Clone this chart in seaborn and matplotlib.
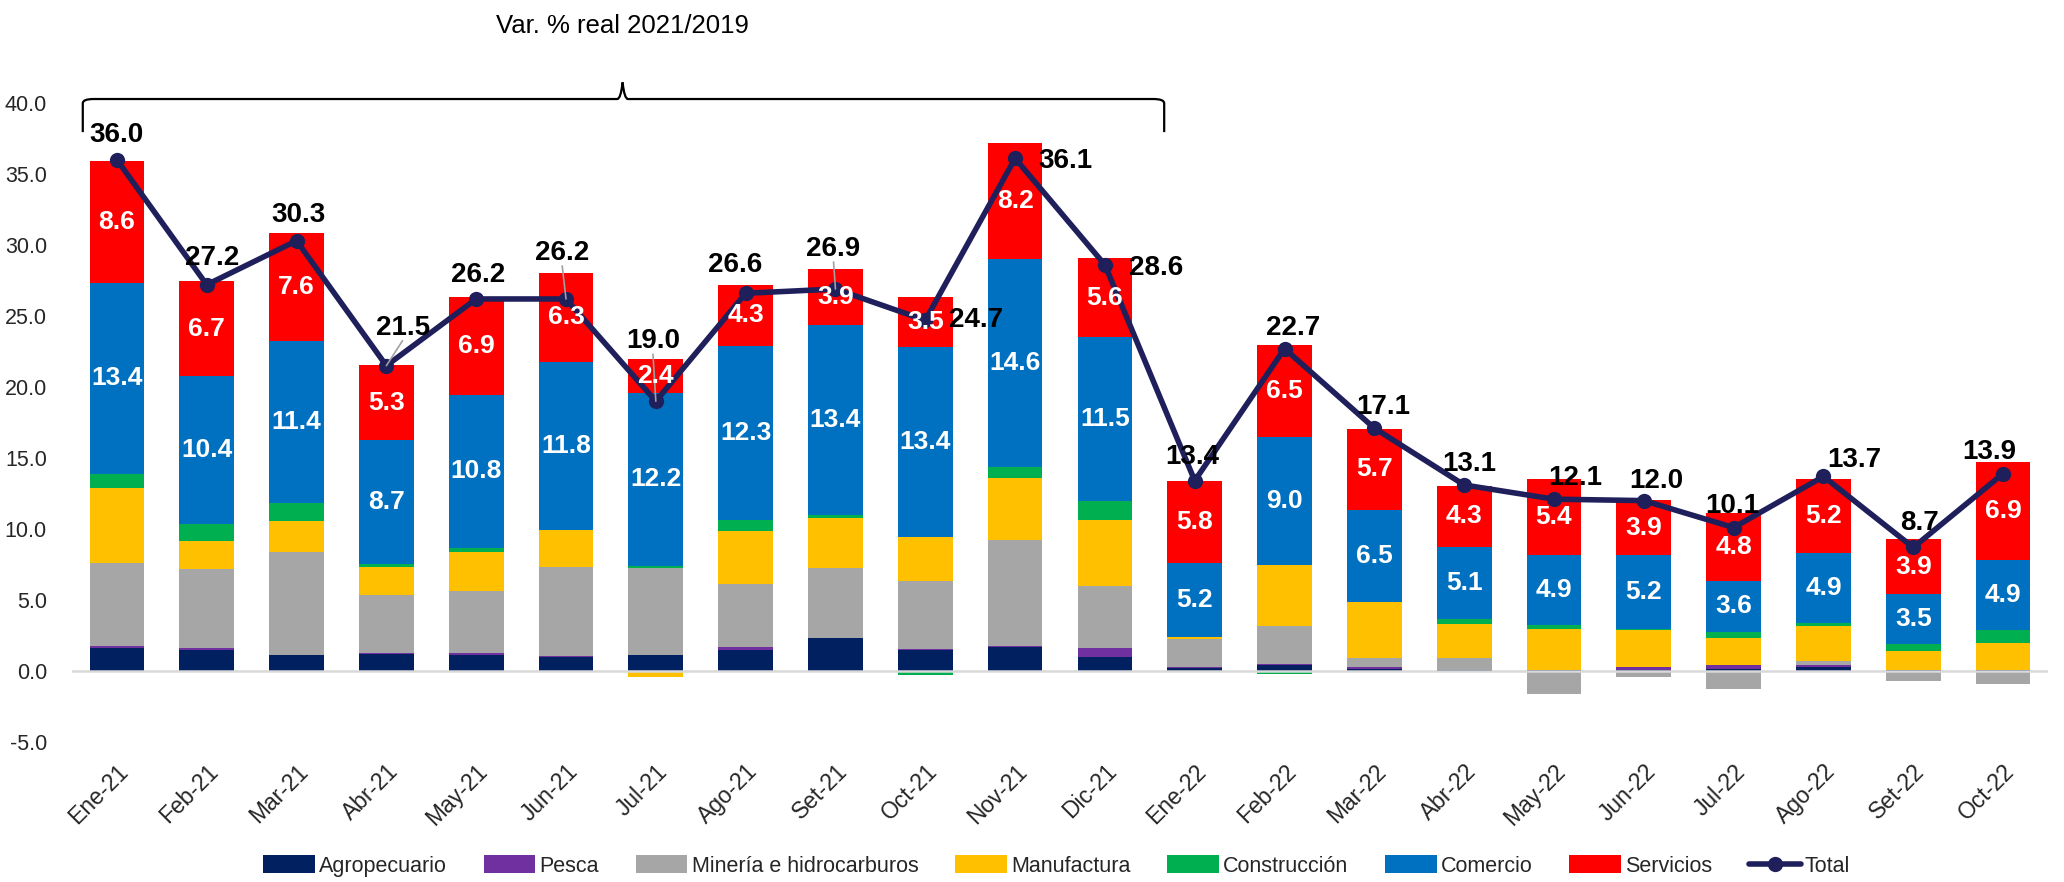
import numpy as np
import matplotlib
matplotlib.use("Agg")
import matplotlib.pyplot as plt
import seaborn as sns
from matplotlib.path import Path
from matplotlib.patches import PathPatch
from matplotlib.lines import Line2D

months = ["Ene-21", "Feb-21", "Mar-21", "Abr-21", "May-21", "Jun-21", "Jul-21",
          "Ago-21", "Set-21", "Oct-21", "Nov-21", "Dic-21", "Ene-22", "Feb-22",
          "Mar-22", "Abr-22", "May-22", "Jun-22", "Jul-22", "Ago-22", "Set-22", "Oct-22"]

agropecuario = [1.6, 1.5, 1.1, 1.2, 1.1, 1.0, 1.1, 1.5, 2.3, 1.5, 1.7, 1.0,
                0.2, 0.45, 0.15, 0.05, 0.05, 0.1, 0.15, 0.25, 0.05, 0.05]
pesca = [0.15, 0.15, -0.05, 0.05, 0.15, 0.05, 0.05, 0.2, 0.05, 0.05, 0.05, 0.6,
         0.05, 0.05, 0.1, -0.1, 0.05, 0.2, 0.25, 0.15, 0.05, 0.05]
mineria = [5.85, 5.5, 7.25, 4.1, 4.4, 6.3, 6.1, 4.4, 4.9, 4.8, 7.45, 4.4,
           2.0, 2.7, 0.7, 0.9, -1.65, -0.4, -1.3, 0.3, -0.7, -0.9]
manufactura = [5.3, 2.0, 2.2, 2.0, 2.7, 2.55, -0.45, 3.75, 3.55, 3.1, 4.4, 4.6,
               0.15, 4.25, 3.9, 2.35, 2.85, 2.6, 1.95, 2.5, 1.3, 1.85]
construccion = [1.0, 1.2, 1.3, 0.2, 0.3, 0.05, 0.15, 0.75, 0.2, -0.3, 0.8, 1.4,
                -0.1, -0.2, -0.1, 0.35, 0.3, 0.05, 0.4, 0.2, 0.5, 0.95]
comercio = [13.4, 10.4, 11.4, 8.7, 10.8, 11.8, 12.2, 12.3, 13.4, 13.4, 14.6, 11.5,
            5.2, 9.0, 6.5, 5.1, 4.9, 5.2, 3.6, 4.9, 3.5, 4.9]
servicios = [8.6, 6.7, 7.6, 5.3, 6.9, 6.3, 2.4, 4.3, 3.9, 3.5, 8.2, 5.6,
             5.8, 6.5, 5.7, 4.3, 5.4, 3.9, 4.8, 5.2, 3.9, 6.9]
total = [36.0, 27.2, 30.3, 21.5, 26.2, 26.2, 19.0, 26.6, 26.9, 24.7, 36.1, 28.6,
         13.4, 22.7, 17.1, 13.1, 12.1, 12.0, 10.1, 13.7, 8.7, 13.9]

series_names = ["Agropecuario", "Pesca", "Minería e hidrocarburos", "Manufactura",
                "Construcción", "Comercio", "Servicios"]
series_values = [agropecuario, pesca, mineria, manufactura, construccion, comercio, servicios]
series_colors = ["#002060", "#7030A0", "#A6A6A6", "#FFC000", "#00B050", "#0070C0", "#FF0000"]
labeled_series = ["Comercio", "Servicios"]
line_color = "#1F1F5C"
bracket_text = "Var. % real 2021/2019"

# label offsets for total labels (pixels: dx, dy) - styling only
total_label_offsets = [(0, 25), (5, 27), (2, 26), (17, 38), (2, 24), (-4, 46), (-3, 60),
                       (-11, 28), (-2, 40), (51, 0), (50, -3), (51, -3), (-2, 24), (9, 21),
                       (9, 21), (5, 21), (21, 21), (12, 20), (-1, 22), (31, 16), (6, 24), (-14, 22)]
leader_idx = [3, 5, 6, 8]

sns.set_theme(style="white")
plt.rcParams['font.family'] = ['Liberation Sans', 'DejaVu Sans']

W, H = 2064, 882
fig = plt.figure(figsize=(W / 100, H / 100), dpi=100)
ax = fig.add_axes([72 / W, 1 - 742 / H, (2048 - 72) / W, (742 - 103) / H])

n = len(months)
x = np.arange(n)
pos_base = np.zeros(n)
neg_base = np.zeros(n)
handles = []
for name, vals, col in zip(series_names, series_values, series_colors):
    v = np.array(vals, dtype=float)
    bottom = np.where(v >= 0, pos_base, neg_base)
    bars = ax.bar(x, v, 0.61, bottom=bottom, color=col, label=name, zorder=2, linewidth=0)
    handles.append(bars)
    if name in labeled_series:
        for xi, b, vi in zip(x, bottom, v):
            ax.text(xi, b + vi / 2, f"{vi:.1f}", ha="center", va="center", color="white",
                    fontsize=19, fontweight="bold", zorder=7)
    pos_base = pos_base + np.where(v >= 0, v, 0)
    neg_base = neg_base + np.where(v < 0, v, 0)

ax.axhline(0, color="#D9D9D9", lw=1.8, zorder=3)

sns.lineplot(x=x, y=total, ax=ax, color=line_color, linewidth=4, marker="o",
             markersize=11, markeredgewidth=0, zorder=5, legend=False)

px2pt = 72 / 100
for i, (xi, t) in enumerate(zip(x, total)):
    dx, dy = total_label_offsets[i]
    ax.annotate(f"{t:.1f}", (xi, t), xytext=(dx * px2pt, dy * px2pt), textcoords="offset points",
                ha="center", va="center", fontsize=20, fontweight="bold", color="black", zorder=8)
    if i in leader_idx:
        ax.annotate("", (xi, t), xytext=(dx * px2pt * 0.95, (dy - 13) * px2pt),
                    textcoords="offset points",
                    arrowprops=dict(arrowstyle="-", color="#A0A0A0", lw=1.2, shrinkA=0, shrinkB=0),
                    zorder=6)

ax.set_xlim(-0.5, n - 0.5)
ax.set_ylim(-5, 40)
ax.set_yticks(np.arange(-5, 40.1, 5))
ax.set_yticklabels([f"{v:.1f}" for v in np.arange(-5, 40.1, 5)], fontsize=15.5)
ax.set_xticks(x)
ax.set_xticklabels(months, rotation=45, ha="right", va="top", rotation_mode="anchor", fontsize=16.5)
ax.tick_params(axis="both", length=0)
ax.tick_params(axis="y", pad=18)
ax.tick_params(axis="x", pad=13)
for s in ax.spines.values():
    s.set_visible(False)
ax.grid(False)

# bracket
x0, x1, xm = -0.38, 11.66, 5.63
yb, ye, yt = 40.28, 37.95, 41.45
r = 0.12
verts = [(x0, ye), (x0, yb - 0.3), (x0, yb), (x0 + r, yb),
         (xm - 0.06, yb), (xm - 0.02, yb), (xm, yt),
         (xm + 0.02, yb), (xm + 0.06, yb),
         (x1 - r, yb), (x1, yb), (x1, yb - 0.3), (x1, ye)]
codes = [Path.MOVETO, Path.LINETO, Path.CURVE3, Path.CURVE3,
         Path.LINETO, Path.CURVE3, Path.CURVE3,
         Path.CURVE3, Path.CURVE3,
         Path.LINETO, Path.CURVE3, Path.CURVE3, Path.LINETO]
ax.add_patch(PathPatch(Path(verts, codes), fill=False, lw=1.6, color="black", clip_on=False, zorder=4))
ax.text(xm, 45.4, bracket_text, ha="center", va="center", fontsize=18.5, color="black", clip_on=False)

line_handle = Line2D([], [], color=line_color, lw=4, marker="o", markersize=11, markeredgewidth=0)
fig.legend(handles=handles + [line_handle], labels=series_names + ["Total"], loc="center",
           bbox_to_anchor=(0.512, 0.018), ncol=8, frameon=False, fontsize=15.5,
           handlelength=2.4, handleheight=0.9, handletextpad=0.2, columnspacing=1.7)

fig.savefig("out.png", dpi=100)
